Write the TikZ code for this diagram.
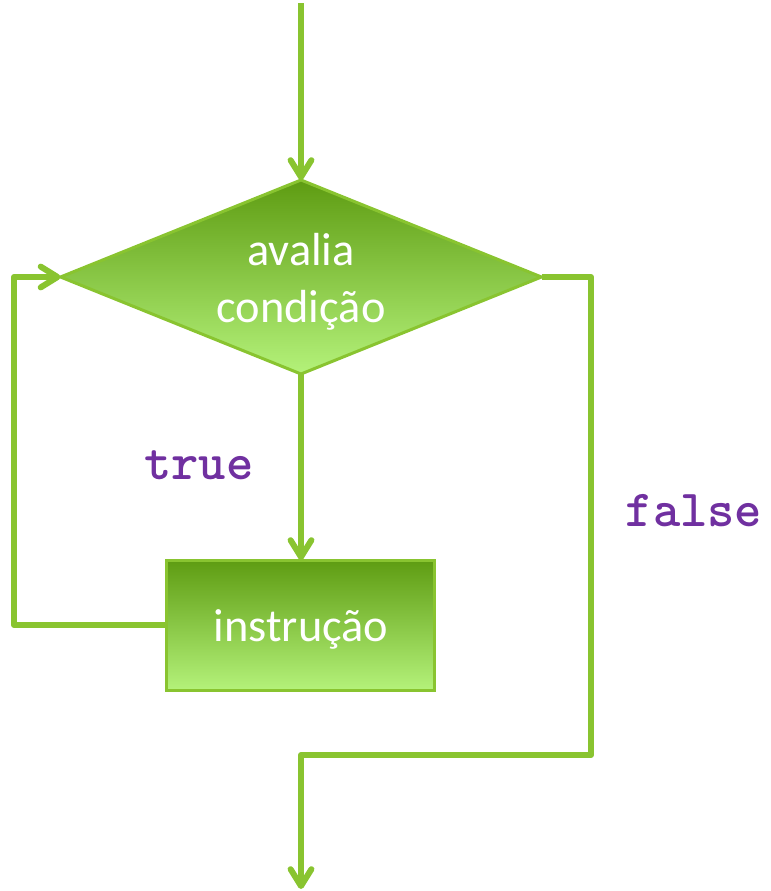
\documentclass[tikz,border=0pt]{standalone}
\usepackage{fontspec}
\usepackage{tikz}
\usetikzlibrary{arrows.meta,shapes.geometric,positioning}
\setmainfont{Carlito}
\definecolor{linegreen}{RGB}{137,196,48}
\definecolor{darkgreen}{RGB}{94,156,18}
\definecolor{lightgreen}{RGB}{180,242,122}
\definecolor{labelpurple}{RGB}{112,48,160}
\newcommand{\lowertext}[1]{\raisebox{-0.12cm}[\height][\depth]{#1}}
\tikzset{
  greenbox/.style={draw=linegreen, line width=0.075cm, top color=darkgreen,
    bottom color=lightgreen, text=white, align=center, outer sep=0pt,
    font=\fontsize{33}{40.5}\selectfont},
  flow/.style={->, draw=linegreen, line width=0.15cm, line join=round},
  codelabel/.style={text=labelpurple, font=\ttfamily\bfseries\fontsize{37}{40}\selectfont}
}

\begin{document}
\begin{tikzpicture}[>={Straight Barb[length=0.42cm,width=0.52cm,line cap=round,line join=round]}]

 % fix the page size
 \useasboundingbox (-7.525,-15.35) rectangle (11.75,6.925);

 % the test
 \node[greenbox,
  shape=diamond,
  aspect=2.48,
  inner sep=0pt,
  minimum width=12.025cm, 	% full width of the diamond
  minimum height=4.85cm,
  anchor=center] (cond) at (0,0)
 {\lowertext{avalia}\\\lowertext{condição}};

 % the body of the loop
 \node[greenbox,
  below=4.65cm of cond, 	% gap to the diamond
  minimum width=6.7cm,
  minimum height=3.25cm] (instr)
 {\lowertext{instrução}};

 % free ends and corners of the connectors
 \coordinate (start) at (0,6.85);
 \coordinate (back) at (-7.175,0);
 \coordinate (turn) at (7.25,-11.95);
 \coordinate (exit) at (0,-15.3);

 % labels
 \node[codelabel] (truelabel) at (-2.55,-4.7) {true};
 \node[codelabel] (falselabel) at (9.825,-5.85) {false};

 % draw the paths
 \draw[flow] (start) -- (cond.north);
 \draw[flow] (cond.south) -- (instr.north);
 \draw[flow] (instr.west) -| (back) -- (cond.west);
 \draw[flow] (cond.east) -| (turn) -| (exit);

\end{tikzpicture}
\end{document}
